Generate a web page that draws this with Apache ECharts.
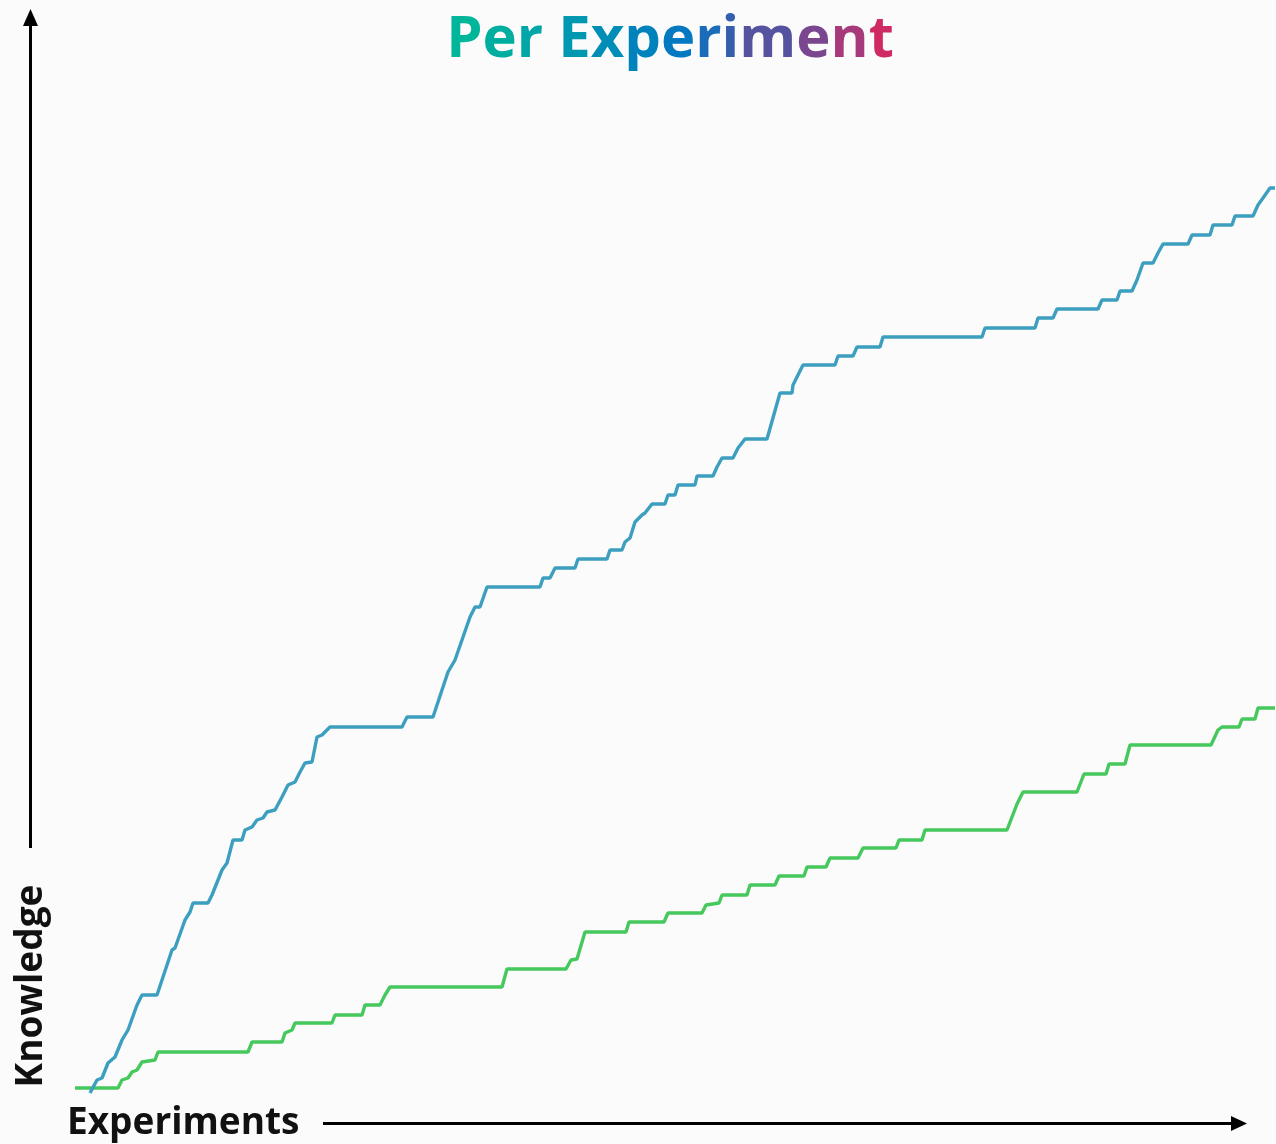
<!DOCTYPE html>
<html>
<head>
<meta charset="utf-8">
<title>Per Experiment</title>
<script src="https://cdn.jsdelivr.net/npm/echarts@6/dist/echarts.min.js"></script>
<style>
  html, body { margin: 0; padding: 0; background: #fbfbfb; }
  #chart { width: 1276px; height: 1144px; }
</style>
</head>
<body>
<div id="chart"></div>
<script>
// Cumulative knowledge gained as experiments accumulate (two cadences).
var fastExperiments = [1.5, 2.2, 2.7, 3.3, 4.0, 4.7, 5.3, 6.2, 6.7, 8.2, 8.8, 9.7, 10.0, 11.0, 11.5, 11.8, 13.3, 13.7, 14.7, 15.2, 15.8, 16.7, 17.0, 17.7, 18.2, 18.8, 19.2, 20.0, 20.7, 21.3, 22.0, 22.5, 23.0, 23.7, 24.2, 24.7, 25.5, 32.7, 33.2, 35.8, 36.7, 37.3, 38.0, 39.5, 40.0, 40.5, 41.2, 46.5, 46.8, 47.5, 48.0, 50.0, 50.3, 53.2, 53.5, 54.7, 55.0, 55.5, 56.0, 56.7, 57.0, 57.7, 59.0, 59.3, 60.0, 60.3, 62.0, 62.2, 63.8, 64.2, 64.7, 65.8, 66.3, 67.0, 69.2, 70.5, 71.7, 71.8, 72.3, 72.8, 76.0, 76.3, 77.8, 78.2, 80.5, 80.8, 90.7, 91.0, 96.0, 96.3, 97.8, 98.2, 102.3, 102.7, 104.2, 104.5, 105.7, 106.2, 106.8, 107.8, 108.3, 108.8, 111.3, 111.7, 113.5, 113.8, 115.7, 116.0, 117.8, 118.3, 118.8, 119.5, 120.0];
var fastKnowledge = [0.7, 2.0, 2.2, 3.7, 4.3, 6.0, 7.0, 9.5, 10.5, 10.5, 12.3, 15.0, 15.2, 18.0, 18.8, 19.7, 19.7, 20.5, 23.0, 23.7, 26.0, 26.0, 27.0, 27.3, 28.0, 28.2, 28.8, 29.0, 30.3, 31.5, 31.8, 32.8, 33.7, 33.8, 36.3, 36.5, 37.3, 37.3, 38.3, 38.3, 41.0, 42.8, 44.0, 48.3, 49.3, 49.3, 51.3, 51.3, 52.2, 52.2, 53.2, 53.2, 54.1, 54.1, 55.0, 55.0, 55.8, 56.2, 57.8, 58.5, 58.7, 59.6, 59.6, 60.5, 60.5, 61.5, 61.5, 62.4, 62.4, 63.3, 64.2, 64.2, 65.2, 66.1, 66.1, 70.7, 70.7, 71.5, 72.5, 73.5, 73.5, 74.4, 74.4, 75.3, 75.3, 76.3, 76.3, 77.2, 77.2, 78.2, 78.2, 79.1, 79.1, 80.0, 80.0, 80.9, 80.9, 82.0, 83.7, 83.7, 84.7, 85.6, 85.6, 86.5, 86.5, 87.5, 87.5, 88.4, 88.4, 89.5, 90.2, 91.2, 91.2];

var slowExperiments = [0, 4.3, 4.7, 5.3, 5.7, 6.2, 6.7, 8.0, 8.3, 17.3, 17.7, 20.7, 21.0, 21.7, 22.0, 25.7, 26.0, 28.7, 29.0, 30.5, 31.0, 31.5, 42.7, 43.2, 49.1, 49.6, 50.2, 51.0, 55.1, 55.4, 58.9, 59.3, 62.7, 63.1, 64.4, 64.7, 67.2, 67.5, 70.0, 70.4, 72.9, 73.2, 75.1, 75.5, 78.3, 78.8, 82.1, 82.4, 84.7, 85.0, 93.2, 94.2, 94.8, 100.2, 100.9, 103.1, 103.4, 105.0, 105.5, 113.6, 114.3, 114.7, 116.4, 116.7, 118.0, 118.3, 120.0];
var slowKnowledge = [1.2, 1.2, 2.0, 2.2, 2.8, 3.0, 3.8, 4.0, 4.8, 4.8, 5.8, 5.8, 6.7, 7.0, 7.7, 7.7, 8.5, 8.5, 9.5, 9.5, 10.5, 11.3, 11.3, 13.1, 13.1, 14.0, 14.1, 16.8, 16.8, 17.8, 17.8, 18.7, 18.7, 19.5, 19.7, 20.5, 20.5, 21.5, 21.5, 22.4, 22.4, 23.3, 23.3, 24.2, 24.2, 25.2, 25.2, 26.0, 26.0, 27.0, 27.0, 29.6, 30.8, 30.8, 32.6, 32.6, 33.6, 33.6, 35.5, 35.5, 37.0, 37.3, 37.3, 38.1, 38.1, 39.2, 39.2];

var titleText = 'Per Experiment';
var titleColors = ['#00b69a', '#00aea0', '#00a6a8', null, '#0097b0', '#008db6', '#0082bd', '#0478c0', '#1a6cb8', '#355fac', '#5552a0', '#7a4690', '#a63a7b', '#cf2a64'];
var xAxisName = 'Experiments';
var yAxisName = 'Knowledge';

function pairs(xs, ys) {
  return xs.map(function (x, i) { return [x, ys[i]]; });
}

// Build the multicoloured title as rich text, one style per glyph.
var titleFont = { fontFamily: 'Open Sans', fontWeight: 'bold', fontSize: 58 };
var rich = {};
var richText = '';
for (var i = 0; i < titleText.length; i++) {
  var ch = titleText[i];
  if (titleColors[i]) {
    rich['c' + i] = Object.assign({ fill: titleColors[i] }, titleFont);
    richText += '{c' + i + '|' + ch + '}';
  } else {
    rich.sp = Object.assign({ fill: '#000' }, titleFont);
    richText += '{sp| }';
  }
}

var chart = echarts.init(document.getElementById('chart'), null, { renderer: 'canvas' });

chart.setOption({
  backgroundColor: '#fbfbfb',
  animation: false,
  grid: { left: 75, right: 1, top: 100, bottom: 44 },
  xAxis: { type: 'value', min: 0, max: 120, show: false },
  yAxis: { type: 'value', min: 0, max: 100, show: false },
  series: [
    {
      name: 'fast cadence',
      type: 'line',
      data: pairs(fastExperiments, fastKnowledge),
      symbol: 'none',
      clip: false,
      lineStyle: { color: '#3c9fbf', width: 3.4 },
      z: 3
    },
    {
      name: 'slow cadence',
      type: 'line',
      data: pairs(slowExperiments, slowKnowledge),
      symbol: 'none',
      clip: false,
      lineStyle: { color: '#45c85c', width: 3.4 },
      z: 2
    }
  ],
  graphic: [
    {
      type: 'text',
      x: 670,
      y: 40,
      style: { text: richText, rich: rich, align: 'center', verticalAlign: 'middle' }
    },
    // vertical axis arrow
    {
      type: 'line',
      shape: { x1: 30.5, y1: 848, x2: 30.5, y2: 22 },
      style: { stroke: '#000', lineWidth: 3 }
    },
    {
      type: 'polygon',
      shape: { points: [[30.5, 9], [23, 26], [38, 26]] },
      style: { fill: '#000' }
    },
    // horizontal axis arrow
    {
      type: 'line',
      shape: { x1: 323, y1: 1123.5, x2: 1236, y2: 1123.5 },
      style: { stroke: '#000', lineWidth: 3 }
    },
    {
      type: 'polygon',
      shape: { points: [[1247, 1123.5], [1231, 1116], [1231, 1131]] },
      style: { fill: '#000' }
    },
    {
      type: 'text',
      x: 67,
      y: 1123,
      style: {
        text: xAxisName,
        fill: '#111',
        font: 'bold 37px "Open Sans"',
        align: 'left',
        verticalAlign: 'middle'
      }
    },
    {
      type: 'text',
      x: 31,
      y: 986,
      rotation: Math.PI / 2,
      style: {
        text: yAxisName,
        fill: '#111',
        font: 'bold 37px "Open Sans"',
        align: 'center',
        verticalAlign: 'middle'
      }
    }
  ]
});
</script>
</body>
</html>
